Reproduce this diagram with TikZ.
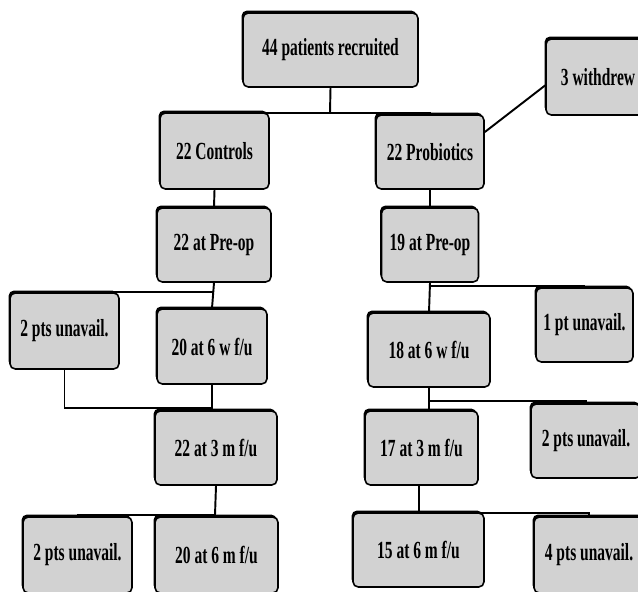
\documentclass[tikz,border=0pt]{standalone}
\usepackage{fontspec}
\setmainfont{Liberation Serif}[FakeStretch=0.63]
\usetikzlibrary{shadows}

\begin{document}
\begin{tikzpicture}[x=0.02cm, y=-0.02cm,
    font=\fontsize{14}{16}\selectfont\bfseries,
    box/.style 2 args={draw, line width=0.9pt, rounded corners=3pt,
        fill=gray!35, inner sep=0pt,
        minimum width={#1*0.02cm}, minimum height={#2*0.02cm},
        general shadow={fill=black, shadow xshift=-0.8pt, shadow yshift=1.4pt}},
    link/.style={line width=1.1pt}]

    \clip (0,0) rectangle (638,591);
    \fill[white] (0,0) rectangle (638,591);

    % top of the chart
    \node[box={175}{74}] (recruit) at (330.5,50) {44 patients recruited};
    \node[box={104}{76}] (withdrew) at (598,77) {3 withdrew\hspace{6pt}};
    \node[box={109}{76}] (controls) at (214.5,151) {22 Controls};
    \node[box={108}{74}] (probiotics) at (430,152) {22 Probiotics};

    % controls arm
    \node[box={114}{74}] (preopC) at (214,245) {22 at Pre-op};
    \node[box={109}{76}] (unavCa) at (64.5,331) {2 pts unavail.};
    \node[box={110}{75}] (wksixC) at (212,346.5) {20 at 6 w f/u};
    \node[box={122}{74}] (mthreeC) at (216,448) {22 at 3 m f/u};
    \node[box={109}{76}] (unavCb) at (77.5,555) {2 pts unavail.};
    \node[box={123}{76}] (msixC) at (216.5,555) {20 at 6 m f/u};

    % probiotics arm
    \node[box={97}{74}] (preopP) at (430,245) {19 at Pre-op};
    \node[box={97}{74}] (unavPa) at (584.5,325) {1 pt unavail.};
    \node[box={122}{74}] (wksixP) at (429,350) {18 at 6 w f/u};
    \node[box={110}{74}] (unavPb) at (586,441) {2 pts unavail.};
    \node[box={113}{74}] (mthreeP) at (421.5,448) {17 at 3 m f/u};
    \node[box={131}{74}] (msixP) at (418.5,550) {15 at 6 m f/u};
    \node[box={110}{76}] (unavPc) at (589,555) {4 pts unavail.};

    % junctions
    \coordinate (jtop) at (330,113);
    \coordinate (jCa) at (214,292);
    \coordinate (jCb) at (212,408);
    \coordinate (jCc) at (215,515);
    \coordinate (jPa) at (429,286);
    \coordinate (jPb) at (429,401);
    \coordinate (jPc) at (419,513);

    \draw[link] (recruit.south) -- (jtop);
    \draw[link] (controls.north) |- (jtop) -| (probiotics.north);
    \draw[link] (probiotics.20) -- (withdrew.189);

    \draw[link] (controls.south) -- (preopC.north);
    \draw[link] (preopC.south) -- (wksixC.north);
    \draw[link] (unavCa.north) |- (jCa);
    \draw[link] (wksixC.south) -- (jCb) -- (mthreeC.north -| jCb);
    \draw[link] (unavCa.south) |- (jCb);
    \draw[link] (mthreeC.south) -- (jCc) -- (msixC.north -| jCc);
    \draw[link] (unavCb.north) |- (jCc);

    \draw[link] (probiotics.south) -- (preopP.north);
    \draw[link] (preopP.south) -- (wksixP.north);
    \draw[link] (unavPa.north) |- (jPa);
    \draw[link] (wksixP.south) -- (jPb) -- (mthreeP.north -| jPb);
    \draw[link] (unavPb.north) |- (jPb);
    \draw[link] (mthreeP.south -| jPc) -- (jPc) -- (msixP.north -| jPc);
    \draw[link] (unavPc.north) |- (jPc);
\end{tikzpicture}
\end{document}
